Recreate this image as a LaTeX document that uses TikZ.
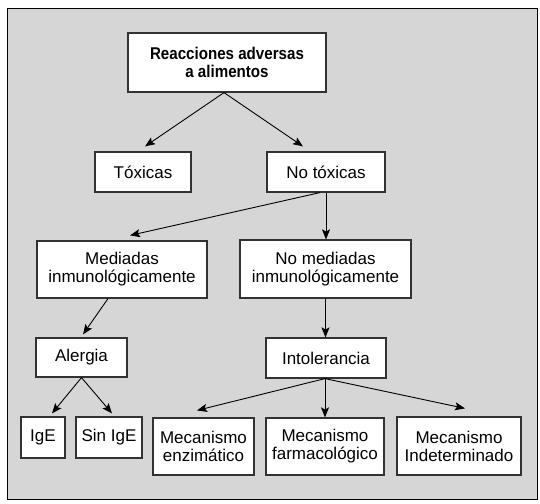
\documentclass[tikz,border=0pt]{standalone}
\usepackage{fontspec}
\setmainfont{Liberation Sans}
\newfontfamily\titlefont[FakeStretch=0.89]{Liberation Sans}
\usetikzlibrary{arrows.meta}
\definecolor{bgc}{RGB}{214,214,214}
\definecolor{boxline}{RGB}{50,50,50}
\tikzset{
  box/.style={draw=boxline, line width=1.2pt, fill=white, rectangle, inner sep=0pt,
    align=center, font=\fontsize{17}{18}\selectfont},
  arr/.style={draw=black, line width=0.9pt, -{Stealth[length=10pt,width=8pt,inset=2pt]}}
}
\begin{document}
\begin{tikzpicture}[x=1pt,y=-1pt]
\useasboundingbox (0,0) rectangle (540,503);
\draw[fill=bgc, line width=1pt] (7,9) rectangle (537,499);
% boxes: centre, width, height
\node[box, minimum width=198pt, minimum height=59pt, font=\titlefont\bfseries\fontsize{17}{18.4}\selectfont] (title) at (227,62.5) {Reacciones adversas\\a alimentos};
\node[box, minimum width=96pt, minimum height=40pt] (tox) at (143,172) {Tóxicas};
\node[box, minimum width=118pt, minimum height=40pt] (notox) at (326,172) {No tóxicas};
\node[box, minimum width=170pt, minimum height=57pt] (med) at (122,269.5) {Mediadas\\inmunológicamente};
\node[box, minimum width=171pt, minimum height=58pt] (nomed) at (325.5,269) {No mediadas\\inmunológicamente};
\node[box, minimum width=91pt, minimum height=39pt] (ale) at (81.5,357.5) {Alergia};
\node[box, minimum width=120pt, minimum height=40pt] (intol) at (326,358) {Intolerancia};
\node[box, minimum width=44pt, minimum height=41pt] (ige) at (43,437.5) {IgE};
\node[box, minimum width=66pt, minimum height=41pt] (sin) at (109,437.5) {Sin IgE};
\node[box, minimum width=101pt, minimum height=57pt] (enz) at (203.5,446.5) {Mecanismo\\enzimático};
\node[box, minimum width=118pt, minimum height=57pt] (farm) at (325,446.5) {Mecanismo\\farmacológico};
\node[box, minimum width=124pt, minimum height=58pt] (ind) at (459,446) {Mecanismo\\Indeterminado};
% connectors
\draw[arr] ([xshift=-3pt]title.south) -- ([xshift=2pt,yshift=5pt]tox.north);
\draw[arr] ([xshift=-3pt]title.south) -- ([xshift=-23pt,yshift=5pt]notox.north);
\draw[arr] ([xshift=-6pt]notox.south) -- ([xshift=8pt,yshift=5pt]med.north);
\draw[arr] (notox.south) -- (notox.south |- nomed.north);
\draw[arr] ([xshift=-14pt]med.south) -- ([xshift=1.5pt,yshift=3pt]ale.north);
\draw[arr] (nomed.south) -- (nomed.south |- intol.north);
\draw[arr] (ale.south) -- ([xshift=9pt,yshift=3pt]ige.north);
\draw[arr] (ale.south) -- ([xshift=3pt,yshift=3pt]sin.north);
\draw[arr] ([xshift=-1pt]intol.south) -- ([xshift=-6.5pt,yshift=7pt]enz.north);
\draw[arr] ([xshift=-1pt]intol.south) -- ([xshift=-1pt]intol.south |- farm.north);
\draw[arr] ([xshift=-1pt]intol.south) -- ([xshift=6pt,yshift=8pt]ind.north);
\end{tikzpicture}
\end{document}
